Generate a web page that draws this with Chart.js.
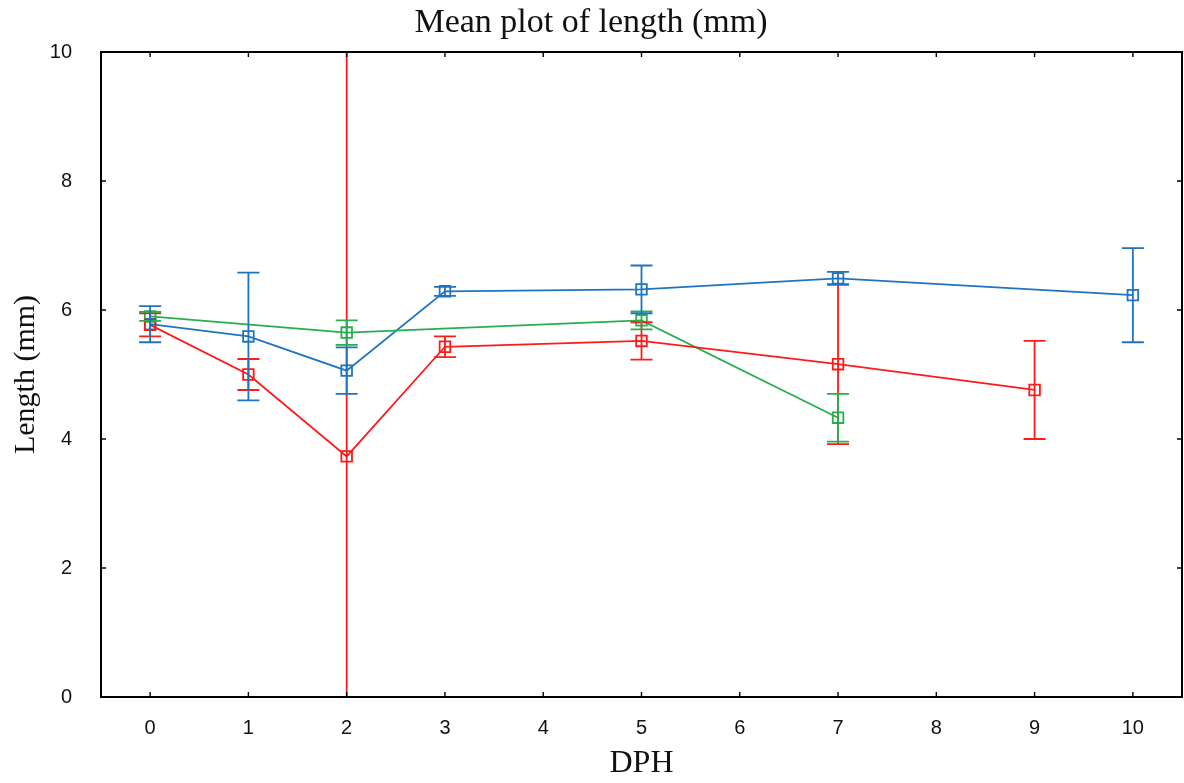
<!DOCTYPE html>
<html>
<head>
<meta charset="utf-8">
<script src="https://cdn.jsdelivr.net/npm/chart.js@4"></script>
<style>
  html, body { margin: 0; padding: 0; background: #fff; }
  #chart { display: block; }
</style>
</head>
<body>
<canvas id="chart" width="1184" height="783"></canvas>
<script>
// Mean plot data
const dphLabels = ['0', '1', '2', '3', '4', '5', '6', '7', '8', '9', '10'];
const yTicks = [0, 2, 4, 6, 8, 10];

const blueMean = [5.78, 5.59, 5.06, 6.29, null, 6.32, null, 6.49, null, null, 6.23];
const blueErr  = [0.28, 0.99, 0.36, 0.07, null, 0.37, null, 0.10, null, null, 0.73];

const greenMean = [5.90, null, 5.65, null, null, 5.84, null, 4.33, null, null, null];
const greenErr  = [0.07, null, 0.19, null, null, 0.14, null, 0.37, null, null, null];

const redMean = [5.77, 5.00, 3.73, 5.43, null, 5.52, null, 5.16, null, 4.76, null];
const redErr  = [0.18, 0.24, 7.00, 0.16, null, 0.29, null, 1.24, null, 0.76, null];

const BLUE = '#1f74c0';
const GREEN = '#27ae4f';
const RED = '#ff1a1a';

function series(data, err, color) {
  return {
    data: data,
    errors: err,
    borderColor: color,
    backgroundColor: 'rgba(0,0,0,0)',
    borderWidth: 1.8,
    pointStyle: 'rect',
    pointRadius: 7.5,
    pointHoverRadius: 7.5,
    pointBorderWidth: 1.8,
    pointBorderColor: color,
    spanGaps: true,
    tension: 0
  };
}

// error bars with caps, drawn through the chart's scales
const errorBars = {
  id: 'errorBars',
  afterDatasetsDraw(chart) {
    const ctx = chart.ctx;
    const area = chart.chartArea;
    const x = chart.scales.x;
    const y = chart.scales.y;
    ctx.save();
    ctx.beginPath();
    ctx.rect(area.left, area.top, area.right - area.left, area.bottom - area.top);
    ctx.clip();
    chart.data.datasets.forEach(ds => {
      ctx.strokeStyle = ds.borderColor;
      ctx.lineWidth = 1.8;
      ds.data.forEach((v, i) => {
        if (v === null || ds.errors[i] === null) return;
        const px = x.getPixelForValue(i);
        const top = y.getPixelForValue(v + ds.errors[i]);
        const bot = y.getPixelForValue(v - ds.errors[i]);
        ctx.beginPath();
        ctx.moveTo(px, top);
        ctx.lineTo(px, bot);
        ctx.moveTo(px - 11, top);
        ctx.lineTo(px + 11, top);
        ctx.moveTo(px - 11, bot);
        ctx.lineTo(px + 11, bot);
        ctx.stroke();
      });
    });
    ctx.restore();
  }
};

// plot frame with inward ticks on all four sides
const frame = {
  id: 'frame',
  afterDraw(chart) {
    const ctx = chart.ctx;
    const a = chart.chartArea;
    const x = chart.scales.x;
    const y = chart.scales.y;
    const tl = 5;
    ctx.save();
    ctx.strokeStyle = '#000';
    ctx.lineWidth = 2;
    ctx.strokeRect(a.left, a.top, a.right - a.left, a.bottom - a.top);
    ctx.lineWidth = 1.4;
    ctx.beginPath();
    dphLabels.forEach((l, i) => {
      const px = x.getPixelForValue(i);
      ctx.moveTo(px, a.bottom);
      ctx.lineTo(px, a.bottom - tl);
      ctx.moveTo(px, a.top);
      ctx.lineTo(px, a.top + tl);
    });
    yTicks.forEach(t => {
      const py = y.getPixelForValue(t);
      ctx.moveTo(a.left, py);
      ctx.lineTo(a.left + tl, py);
      ctx.moveTo(a.right, py);
      ctx.lineTo(a.right - tl, py);
    });
    ctx.stroke();
    ctx.restore();
  }
};

const tickFont = { family: '"Liberation Sans", Arial, sans-serif', size: 20 };
const serif = '"Liberation Serif", "Times New Roman", serif';

new Chart(document.getElementById('chart'), {
  type: 'line',
  data: {
    labels: dphLabels,
    datasets: [
      series(redMean, redErr, RED),
      series(greenMean, greenErr, GREEN),
      series(blueMean, blueErr, BLUE)
    ]
  },
  options: {
    responsive: false,
    animation: false,
    layout: { autoPadding: false, padding: { left: 0, right: 2, top: 0, bottom: 0 } },
    plugins: {
      legend: { display: false },
      tooltip: { enabled: false },
      title: {
        display: true,
        text: 'Mean plot of length (mm)',
        color: '#111',
        font: { family: serif, size: 34, weight: 'normal' },
        padding: { top: 3, bottom: 8.2 }
      }
    },
    scales: {
      x: {
        type: 'category',
        offset: true,
        grid: { display: false },
        border: { display: false },
        ticks: { color: '#111', font: tickFont, padding: 11, maxRotation: 0 },
        title: {
          display: true,
          text: 'DPH',
          color: '#111',
          font: { family: serif, size: 32 },
          padding: { top: 0, bottom: 0 }
        },
        afterFit(scale) {
          scale.height = 86;
          scale.paddingLeft = 0;
          scale.paddingRight = 0;
        }
      },
      y: {
        min: 0,
        max: 10,
        grid: { display: false },
        border: { display: false },
        ticks: { stepSize: 2, color: '#111', font: tickFont, padding: 21 },
        title: {
          display: true,
          text: 'Length (mm)',
          color: '#111',
          font: { family: serif, size: 30 },
          padding: { top: 8, bottom: 0 }
        },
        afterFit(scale) {
          scale.width = 101;
          scale.paddingTop = 0;
          scale.paddingBottom = 0;
        }
      }
    }
  },
  plugins: [errorBars, frame]
});
</script>
</body>
</html>
